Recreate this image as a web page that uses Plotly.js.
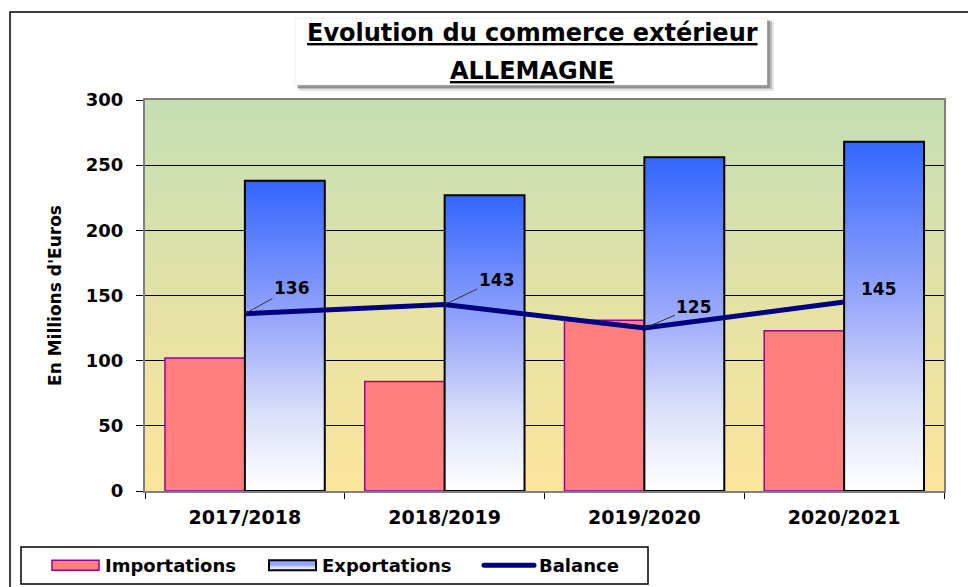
<!DOCTYPE html>
<html><head><meta charset="utf-8">
<script src="https://cdn.plot.ly/plotly-3.0.1.min.js"></script>
<style>html,body{margin:0;padding:0;background:#fff}</style>
</head><body><div id="chart" style="width:968px;height:587px"></div>
<script>
// ---- data ----
const categories = ['2017/2018', '2018/2019', '2019/2020', '2020/2021'];
const importations = [102, 84, 131, 123];
const exportations = [238, 227, 256, 268];
const balance = [136, 143, 125, 145];
const yTickVals = [0, 50, 100, 150, 200, 250, 300];
const seriesNames = ['Importations', 'Exportations', 'Balance'];
const titleLine1 = 'Evolution du commerce extérieur';
const titleLine2 = 'ALLEMAGNE';
const yTitle = "En Millions d'Euros";

// ---- layout helpers (pixel -> paper) ----
const L = 145, R = 944, T = 100, B = 491;
const px = X => (X - L) / (R - L);
const py = Y => (B - Y) / (B - T);
const FONT = 'DejaVu Sans';

// label offsets (pixels) for balance labels
const labelOffsets = [[47, -26], [52, -25], [50, -21], [35, -13]];
const labelArrow = [true, true, true, false];

const data = [
  {type: 'bar', name: seriesNames[0], x: categories, y: importations,
   marker: {color: '#ff7f7f', line: {color: '#990099', width: 1.5}}},
  {type: 'bar', name: seriesNames[1], x: categories, y: exportations,
   marker: {color: '#9fb0ff', line: {color: '#000000', width: 2}}},
  {type: 'scatter', mode: 'lines', name: seriesNames[2], x: categories, y: balance,
   line: {color: '#000080', width: 5}}
];

const annotations = [];
annotations.push({xref: 'paper', yref: 'paper', x: px(532), y: py(33), xanchor: 'center', yanchor: 'middle',
  text: '<u>' + titleLine1 + '</u>', showarrow: false, font: {family: FONT, size: 24, weight: 700, color: '#000'}});
annotations.push({xref: 'paper', yref: 'paper', x: px(532), y: py(71), xanchor: 'center', yanchor: 'middle',
  text: '<u>' + titleLine2 + '</u>', showarrow: false, font: {family: FONT, size: 24, weight: 700, color: '#000'}});
balance.forEach((v, i) => {
  const o = labelOffsets[i];
  if (labelArrow[i]) {
    annotations.push({x: categories[i], y: v, xref: 'x', yref: 'y', text: String(v),
      showarrow: true, arrowhead: 0, arrowwidth: 1, arrowcolor: '#333', ax: o[0], ay: o[1],
      standoff: 0, startstandoff: 0,
      font: {family: FONT, size: 17, weight: 700, color: '#000'}});
  } else {
    annotations.push({x: categories[i], y: v, xref: 'x', yref: 'y', text: String(v),
      showarrow: false, xshift: o[0], yshift: -o[1],
      font: {family: FONT, size: 17, weight: 700, color: '#000'}});
  }
});

const shapes = [
  // outer frame
  {type: 'rect', xref: 'paper', yref: 'paper', x0: px(10), x1: px(1000), y0: py(12), y1: py(700),
   line: {color: '#000', width: 1.5}, fillcolor: 'rgba(0,0,0,0)'},
  // title box shadow
  {type: 'rect', xref: 'paper', yref: 'paper', x0: px(299), x1: px(774), y0: py(91), y1: py(22),
   line: {width: 0}, fillcolor: 'rgba(0,0,0,0.10)'},
  {type: 'rect', xref: 'paper', yref: 'paper', x0: px(298), x1: px(772), y0: py(89), y1: py(21),
   line: {width: 0}, fillcolor: 'rgba(0,0,0,0.18)'},
  {type: 'rect', xref: 'paper', yref: 'paper', x0: px(297), x1: px(770), y0: py(88), y1: py(20),
   line: {width: 0}, fillcolor: 'rgba(0,0,0,0.22)'},
  // title box
  {type: 'rect', xref: 'paper', yref: 'paper', x0: px(295), x1: px(767), y0: py(85), y1: py(18),
   line: {color: '#ddd', width: 0.5}, fillcolor: '#ffffff'},
  // legend box
  {type: 'rect', xref: 'paper', yref: 'paper', x0: px(21), x1: px(648), y0: py(584), y1: py(547),
   line: {color: '#000', width: 1.5}, fillcolor: '#ffffff', layer: 'below'}
];

const bgSvg = '<svg xmlns="http://www.w3.org/2000/svg" width="100" height="100" preserveAspectRatio="none">' +
  '<defs><linearGradient id="g" x1="0" y1="0" x2="0" y2="1">' +
  '<stop offset="0" stop-color="#c4dfb4"/><stop offset="0.5" stop-color="#e3e2a6"/><stop offset="1" stop-color="#fde59b"/>' +
  '</linearGradient></defs><rect width="100" height="100" fill="url(#g)"/></svg>';

const layout = {
  width: 968, height: 587,
  margin: {l: L, r: 968 - R, t: T, b: 587 - B, pad: 0, autoexpand: false},
  paper_bgcolor: '#ffffff', plot_bgcolor: 'rgba(0,0,0,0)',
  barmode: 'group', bargap: 0.2, bargroupgap: 0,
  showlegend: true,
  legend: {orientation: 'h', x: px(45), xanchor: 'left', y: py(547), yanchor: 'top',
    bgcolor: 'rgba(0,0,0,0)', borderwidth: 0, itemwidth: 50, entrywidth: 152, entrywidthmode: 'pixels',
    font: {family: FONT, size: 18, weight: 700, color: '#000'}, traceorder: 'normal'},
  xaxis: {type: 'category', showgrid: false, showline: true, linecolor: '#7f7f7f', linewidth: 2, mirror: true,
    ticks: 'outside', tickson: 'boundaries', ticklen: 6, tickcolor: '#000', tickwidth: 1,
    ticklabelstandoff: 8, automargin: false,
    tickfont: {family: FONT, size: 19, weight: 700, color: '#000'}, fixedrange: true},
  yaxis: {range: [0, 300], tickvals: yTickVals, showgrid: true, gridcolor: '#000', gridwidth: 1,
    showline: true, linecolor: '#7f7f7f', linewidth: 2, mirror: true, zeroline: false, automargin: false,
    ticks: 'outside', ticklen: 7, tickcolor: '#000', tickwidth: 1, ticklabelstandoff: 9,
    tickfont: {family: FONT, size: 18, weight: 700, color: '#000'},
    title: {text: yTitle, standoff: 20, font: {family: FONT, size: 17, weight: 700, color: '#000'}},
    fixedrange: true},
  images: [{source: 'data:image/svg+xml;charset=utf-8,' + encodeURIComponent(bgSvg),
    xref: 'paper', yref: 'paper', x: 0, y: 1, sizex: 1, sizey: 1, sizing: 'stretch',
    xanchor: 'left', yanchor: 'top', layer: 'below'}],
  shapes: shapes,
  annotations: annotations
};

Plotly.newPlot('chart', data, layout, {staticPlot: true, displayModeBar: false}).then(gd => {
  const ns = 'http://www.w3.org/2000/svg';
  const svg = gd.querySelector('.main-svg');
  let defs = svg.querySelector('defs');
  if (!defs) { defs = document.createElementNS(ns, 'defs'); svg.insertBefore(defs, svg.firstChild); }
  const lg = document.createElementNS(ns, 'linearGradient');
  lg.setAttribute('id', 'expGrad');
  lg.setAttribute('x1', '0'); lg.setAttribute('y1', '0'); lg.setAttribute('x2', '0'); lg.setAttribute('y2', '1');
  [['0', '#3366ff'], ['0.45', '#97a6fb'], ['0.75', '#dadff9'], ['1', '#ffffff']].forEach(s => {
    const st = document.createElementNS(ns, 'stop');
    st.setAttribute('offset', s[0]); st.setAttribute('stop-color', s[1]);
    lg.appendChild(st);
  });
  defs.appendChild(lg);
  const lg2 = lg.cloneNode(true);
  lg2.setAttribute('id', 'expGradLeg');
  lg2.querySelectorAll('stop')[0].setAttribute('stop-color', '#8fa4ff');
  defs.appendChild(lg2);
  const barTraces = gd.querySelectorAll('.barlayer .trace');
  if (barTraces[1]) barTraces[1].querySelectorAll('path').forEach(p => { p.style.fill = 'url(#expGrad)'; });
  const legTraces = gd.querySelectorAll('.legend .traces');
  legTraces.forEach((t, i) => {
    if (i < 2) {
      t.querySelectorAll('.legendpoints path').forEach(p => {
        p.setAttribute('d', 'M-23,5H24V-5H-23Z');
        if (i === 1) p.style.fill = 'url(#expGradLeg)';
      });
    } else {
      t.querySelectorAll('.legendlines path').forEach(p => {
        p.setAttribute('d', 'M5,0H55');
        p.style.strokeLinecap = 'round';
      });
    }
  });
});
</script>
</body></html>
